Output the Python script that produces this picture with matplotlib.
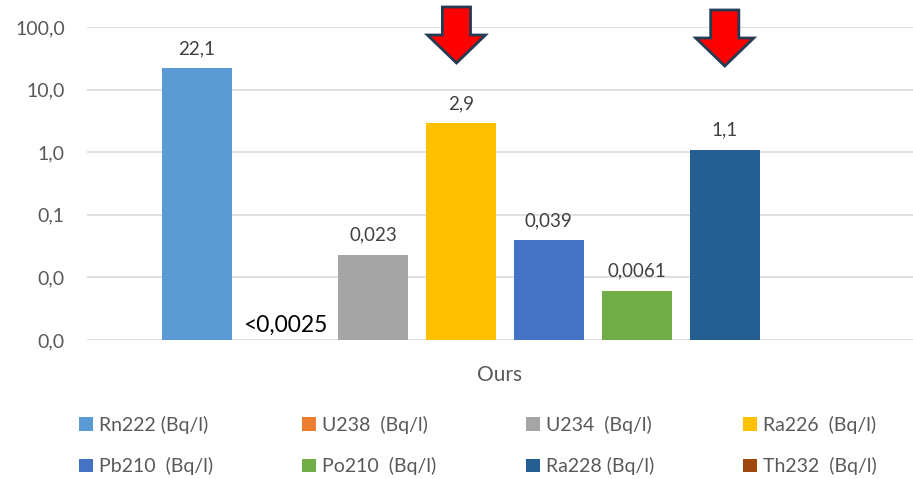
import numpy as np
import matplotlib.pyplot as plt
from matplotlib.patches import Polygon
from matplotlib import transforms

plt.rcParams['font.family'] = ['Lato', 'DejaVu Sans']

isotopes = ['Rn222 (Bq/l)', 'U238  (Bq/l)', 'U234  (Bq/l)', 'Ra226  (Bq/l)',
            'Pb210  (Bq/l)', 'Po210  (Bq/l)', 'Ra228 (Bq/l)', 'Th232  (Bq/l)']
values = [22.1, np.nan, 0.023, 2.9, 0.039, 0.0061, 1.1, np.nan]
value_labels = ['22,1', '', '0,023', '2,9', '0,039', '0,0061', '1,1', '']
colors = ['#5B9BD5', '#ED7D31', '#A5A5A5', '#FFC000',
          '#4472C4', '#70AD47', '#255E91', '#9E480E']
below_limit = {1: '<0,0025'}
highlighted = [3, 6]
yticks = [0.001, 0.01, 0.1, 1, 10, 100]

fig = plt.figure(figsize=(9.13, 4.79), dpi=100)
ax = fig.add_axes([87/913, 139/479, 826/913, 313/479])
ax.set_yscale('log')

x = np.arange(len(values))
handles = []
for i in range(len(values)):
    b = ax.bar(x[i], values[i], width=0.8, color=colors[i], label=isotopes[i], zorder=3)
    handles.append(b)
    if value_labels[i]:
        ax.annotate(value_labels[i], (x[i], values[i]), xytext=(0, 8),
                    textcoords='offset points', ha='center', va='bottom',
                    fontsize=13.5, color='#404040')

for i, txt in below_limit.items():
    ax.annotate(txt, (x[i], 0.001), xytext=(0, 3), textcoords='offset points',
                ha='center', va='bottom', fontsize=16.5, color='black')

ax.set_ylim(0.001, 100)
ax.set_xlim(-1.25, 8.14)
ax.set_yticks(yticks)
ax.set_yticklabels([f'{v:.1f}'.replace('.', ',') for v in yticks])
ax.minorticks_off()
ax.set_xticks([])
ax.tick_params(axis='y', length=0, labelsize=14, labelcolor='#595959', pad=16)
ax.grid(axis='y', color='#d9d9d9', lw=1.2, zorder=0)
for s in ax.spines.values():
    s.set_visible(False)
ax.set_xlabel('Ours', fontsize=15, color='#595959', labelpad=18)

# red arrows pointing at highlighted bars
trans = transforms.blended_transform_factory(ax.transData, fig.transFigure)
px = 1 / 479
for k, i in enumerate(highlighted):
    top = 1 - (7 + 3 * k) * px
    neck = top - 28 * px
    tip = top - 56 * px
    sw, hw = 0.16, 0.33
    c = x[i] - 0.05 if k == 0 else x[i]
    pts = [(c - sw, top), (c + sw, top), (c + sw, neck), (c + hw, neck),
           (c, tip), (c - hw, neck), (c - sw, neck)]
    ax.add_patch(Polygon(pts, closed=True, transform=trans, facecolor='#FF0000',
                         edgecolor='#243B55', lw=2, clip_on=False, zorder=5))

order = [0, 4, 1, 5, 2, 6, 3, 7]
fig.legend([handles[i] for i in order], [isotopes[i] for i in order],
           ncol=4, loc='upper left', bbox_to_anchor=(71/913, 1 - 408/479),
           borderaxespad=0, frameon=False, fontsize=14, labelcolor='#595959',
           handlelength=0.72, handleheight=0.72, handletextpad=0.3,
           columnspacing=4.6, labelspacing=1.2)

fig.savefig('out.png', dpi=100)
